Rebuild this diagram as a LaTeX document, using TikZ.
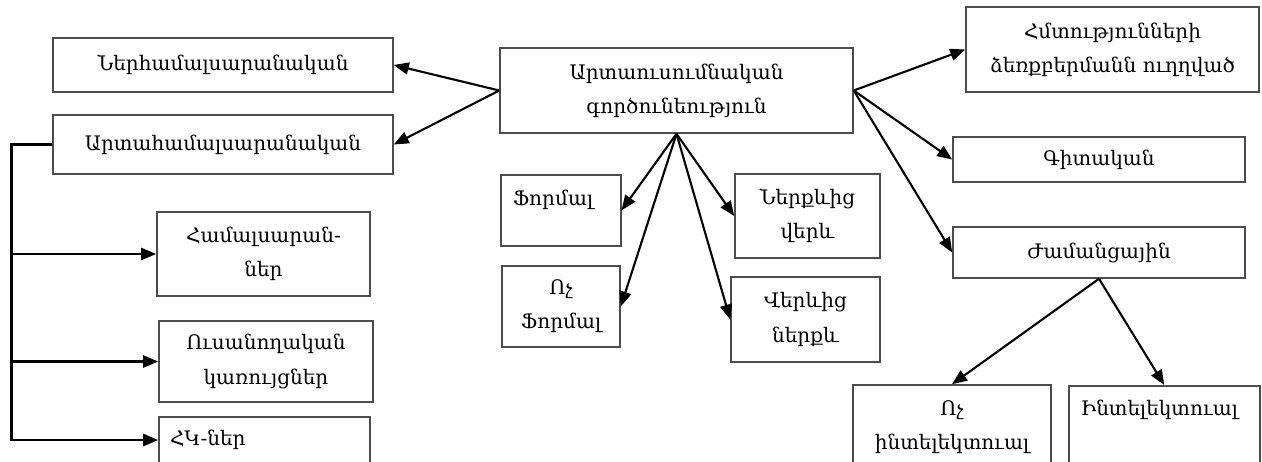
\documentclass[tikz,border=0pt]{standalone}
\usepackage{fontspec}
\setmainfont{DejaVu Serif}
\usetikzlibrary{arrows.meta,positioning,calc}

\begin{document}
\begin{tikzpicture}[x=0.02cm,y=-0.02cm,
  every node/.append style={align=center,draw=black!70,line width=0.9pt,inner sep=0pt,
    font=\fontsize{11.4}{19.5}\selectfont},
  fleche/.style={-{Triangle[length=3mm,width=2.4mm]},line width=1.2pt}]
\useasboundingbox (0,0) rectangle (1262,461);
\clip (0,0) rectangle (1262,461);
\node[minimum width=7.06cm,minimum height=1.70cm] (act) at (676.5,90.5) {Արտաուսումնական\\գործունեություն};
% left side
\node[minimum width=6.8cm,minimum height=1.08cm] (nerh) at (223,65) {Ներհամալսարանական};
\node[minimum width=6.8cm,minimum height=1.18cm] (artah) at (223,144.5) {Արտահամալսարանական};
\node[minimum width=4.26cm,minimum height=1.68cm] (hamal) at (263.5,254) {Համալսարան-\\ներ};
\node[minimum width=4.28cm,minimum height=1.62cm] (usan) at (266,361.5) {Ուսանողական\\կառույցներ};
\node[minimum height=0.92cm,text width=3.78cm,inner xsep=0.22cm,align=left] (hk) at (264.5,440) {ՀԿ-ներ};
% middle
\node[anchor=north west,text width=1.92cm,inner xsep=0.24cm,align=left,
  text height=0.62cm,text depth=0.8cm] (form) at (500,174) {Ֆորմալ};
\node[minimum width=2.36cm,minimum height=1.62cm] (vochform) at (561,306.5) {Ոչ\\Ֆորմալ};
\node[minimum width=2.9cm,minimum height=1.68cm] (nerqev) at (807.5,216) {Ներքևից\\վերև};
\node[minimum width=2.98cm,minimum height=1.70cm] (verev) at (805.5,319.5) {Վերևից\\ներքև};
% right side
\node[minimum width=5.86cm,minimum height=1.70cm] (hmt) at (1112.5,49.5) {Հմտությունների\\ձեռքբերմանն ուղղված};
\node[minimum width=5.84cm,minimum height=0.90cm] (git) at (1099,159.5) {Գիտական};
\node[minimum width=5.84cm,minimum height=1.02cm] (zham) at (1099,252.5) {Ժամանցային};
\node[minimum width=3.96cm,minimum height=1.68cm] (vochint) at (952,427) {Ոչ\\ինտելեկտուալ};
\node[anchor=north west,text width=3.34cm,inner xsep=0.24cm,align=left,
  text height=0.6cm,text depth=1.5cm] (intel) at (1068,385) {Ինտելեկտուալ};

\foreach \i in {nerh,artah}
  \draw[fleche] (act.west) -- (\i.east);
\foreach \i in {hmt,git,zham}
  \draw[fleche] (act.east) -- (\i.west);
\foreach \i in {form,vochform}
  \draw[fleche] (act.south) -- (\i.east);
\foreach \i in {nerqev,verev}
  \draw[fleche] (act.south) -- (\i.west);
\foreach \i in {vochint,intel}
  \draw[fleche] (zham.south) -- (\i.north);
\draw[fleche,line width=1.5pt] (artah.west) -- ++(-41,0) coordinate (tronc) |- (hk.west);
\foreach \i in {hamal,usan}
  \draw[fleche] (tronc |- \i.west) -- (\i.west);
\end{tikzpicture}
\end{document}
